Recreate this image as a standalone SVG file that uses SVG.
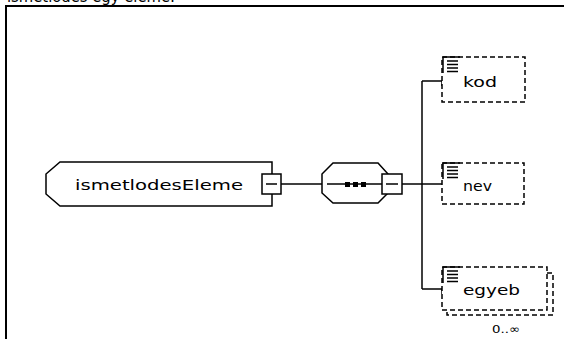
<svg xmlns="http://www.w3.org/2000/svg" width="564" height="339" viewBox="0 0 564 339">
<style>
.s{fill:none;stroke:#000;stroke-width:1.5}
.box{fill:#fff;stroke:#000;stroke-width:1.5}
.d{fill:#fff;stroke:#000;stroke-width:1.5;stroke-dasharray:5,3}
.t{font-family:"DejaVu Sans",Verdana,sans-serif;font-size:14px;fill:#000}
.ic{stroke:#000;stroke-width:1.5;fill:none}
</style>
<defs>
<g id="icon">
<path class="ic" d="M0,0 H17 M0,0 V16 M4,4 H15 M4,7.5 H15 M4,11 H15 M4,14.5 H15"/>
</g>
</defs>
<rect x="0" y="0" width="564" height="339" fill="#fff"/>
<text x="7" y="2" font-family="DejaVu Sans,Verdana,sans-serif" font-size="16" textLength="168" lengthAdjust="spacingAndGlyphs">ismetlodes egy eleme:</text>
<path d="M6,339 V6 H564" fill="none" stroke="#000" stroke-width="2"/>
<g id="connectors">
<path class="s" d="M281,184 H322"/>
<path class="s" d="M402,184 H442"/>
<path class="s" d="M422,81 V289"/>
<path class="s" d="M422,81 H442 V86"/>
<path class="s" d="M422,289 H442 V294"/>
</g>
<g id="ismetlodesEleme">
<path class="box" d="M60,162 H272 V206 H60 L46,194 V174 Z"/>
<text class="t" x="75" y="190" textLength="168" lengthAdjust="spacingAndGlyphs">ismetlodesEleme</text>
<rect class="box" x="262" y="174" width="19" height="20"/>
<path class="s" d="M266,184 H277"/>
</g>
<g id="sequence">
<path class="box" d="M333,163 H378 L388,174 V193 L378,203 H333 L322,193 V174 Z"/>
<path class="s" d="M327,184 H382"/>
<rect x="345" y="182" width="5" height="5" fill="#000"/>
<rect x="353" y="182" width="5" height="5" fill="#000"/>
<rect x="361" y="182" width="5" height="5" fill="#000"/>
<rect class="box" x="382" y="174" width="20" height="20"/>
<path class="s" d="M386,184 H398"/>
</g>
<g id="kod">
<rect class="d" x="442" y="57" width="83" height="45"/>
<use href="#icon" x="443" y="57"/>
<text class="t" x="463" y="87" textLength="34" lengthAdjust="spacingAndGlyphs">kod</text>
</g>
<g id="nev">
<rect class="d" x="442" y="163" width="82" height="41"/>
<use href="#icon" x="443" y="163"/>
<text class="t" x="463" y="191" textLength="29" lengthAdjust="spacingAndGlyphs">nev</text>
</g>
<g id="egyeb">
<path class="d" d="M547,273 H553 V315 H447 V310"/>
<rect class="d" x="442" y="267" width="105" height="43"/>
<use href="#icon" x="443" y="267"/>
<text class="t" x="463" y="295" textLength="57" lengthAdjust="spacingAndGlyphs">egyeb</text>
<text x="492" y="333" font-family="DejaVu Sans,Verdana,sans-serif" font-size="11" textLength="28" lengthAdjust="spacingAndGlyphs">0..∞</text>
</g>
</svg>
